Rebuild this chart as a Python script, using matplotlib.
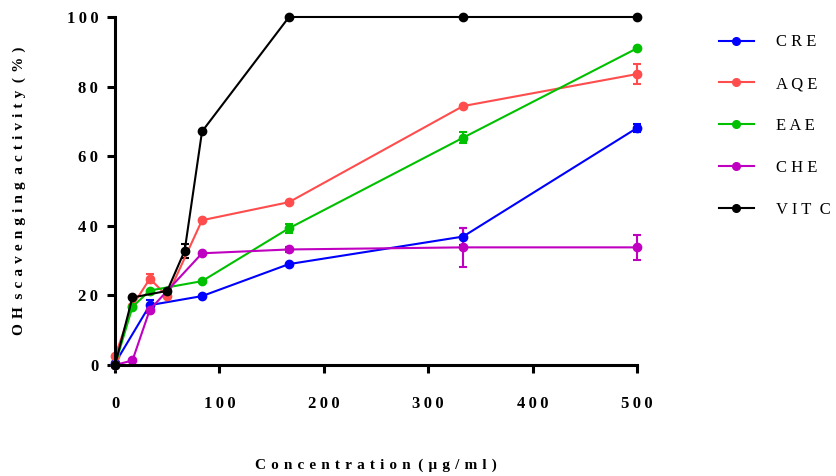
import matplotlib
matplotlib.use('Agg')
import matplotlib.pyplot as plt
from matplotlib.lines import Line2D
from matplotlib.ticker import FuncFormatter

# datos
conc_cre = [0, 33.33, 83.33, 166.67, 333.33, 500]
cre = [0.5, 17.2, 19.8, 29.0, 36.9, 68.1]
cre_err = [0, 1.5, 0, 0, 2.5, 1.2]

conc_aqe = [0, 16.67, 33.33, 50, 83.33, 166.67, 333.33, 500]
aqe = [2.5, 17.0, 24.8, 19.8, 41.6, 46.8, 74.4, 83.6]
aqe_err = [0, 0, 1.3, 0, 0, 0, 0, 2.8]

conc_eae = [0, 16.67, 33.33, 83.33, 166.67, 333.33, 500]
eae = [0, 16.7, 21.4, 24.1, 39.3, 65.3, 91.0]
eae_err = [0, 0, 0, 0, 1.3, 1.6, 0]

conc_che = [0, 16.67, 33.33, 83.33, 166.67, 333.33, 500]
che = [0, 1.3, 15.9, 32.1, 33.2, 33.8, 33.8]
che_err = [0, 0, 1.0, 0, 0.8, 5.6, 3.5]

conc_vit = [0, 16.67, 50, 66.67, 83.33, 166.67, 333.33, 500]
vit = [0, 19.4, 21.3, 32.8, 67.1, 100, 100, 100]
vit_err = [0, 0, 0, 2.0, 0, 0, 0, 0]

x_ticks = [0, 100, 200, 300, 400, 500]
y_ticks = [0, 20, 40, 60, 80, 100]

series = [
    ('CRE', conc_cre, cre, cre_err, '#0000FF'),
    ('AQE', conc_aqe, aqe, aqe_err, '#FF4D4D'),
    ('EAE', conc_eae, eae, eae_err, '#00C000'),
    ('CHE', conc_che, che, che_err, '#C000C0'),
    ('VIT C', conc_vit, vit, vit_err, '#000000'),
]


def espaciar(s, sep='\u2009'):
    # separa letras, y las palabras con un espacio mas ancho
    return '\u2002'.join(sep.join(w) for w in s.split(' '))


plt.rcParams['font.family'] = ['Liberation Serif', 'DejaVu Serif']

fig = plt.figure(figsize=(8.36, 4.76), dpi=100)
ax = fig.add_axes([0.1376, 0.2332, 0.6244, 0.7311])

handles = []
for nombre, xs, ys, err, col in series:
    ax.errorbar(xs, ys, yerr=err, color=col, marker='o', markersize=6,
                linewidth=1.5, elinewidth=1.5, capsize=3, capthick=1.5,
                clip_on=False)
    handles.append(Line2D([], [], color=col, marker='o', markersize=5.5,
                          linewidth=1.5, label=espaciar(nombre, ' ')))

ax.set_xlim(0, 500)
ax.set_ylim(0, 100)
ax.set_xticks(x_ticks)
ax.set_yticks(y_ticks)
ax.xaxis.set_major_formatter(FuncFormatter(lambda v, p: espaciar('%d' % v)))
ax.yaxis.set_major_formatter(FuncFormatter(lambda v, p: espaciar('%d' % v)))
for lab in ax.get_xticklabels() + ax.get_yticklabels():
    lab.set_fontweight('bold')
    lab.set_fontsize(12)

ax.spines['top'].set_visible(False)
ax.spines['right'].set_visible(False)
ax.spines['left'].set_linewidth(2.2)
ax.spines['bottom'].set_linewidth(2.2)
ax.tick_params(width=2.2, length=6, direction='out')
ax.tick_params(axis='x', pad=16)
ax.tick_params(axis='y', pad=6)

ax.set_ylabel(espaciar('OH scavenging activity (%)', '\u2004'),
              fontsize=11, fontweight='bold', labelpad=29)
ax.set_xlabel(espaciar('Concentration (µg/ml)', '\u2004'),
              fontsize=11, fontweight='bold', labelpad=34)

ax.legend(handles=handles, loc='upper left', bbox_to_anchor=(1.128, 0.993),
          frameon=False, fontsize=12, labelspacing=1.55, handlelength=2.1,
          handletextpad=1.3)

plt.savefig('out.png', dpi=100)
